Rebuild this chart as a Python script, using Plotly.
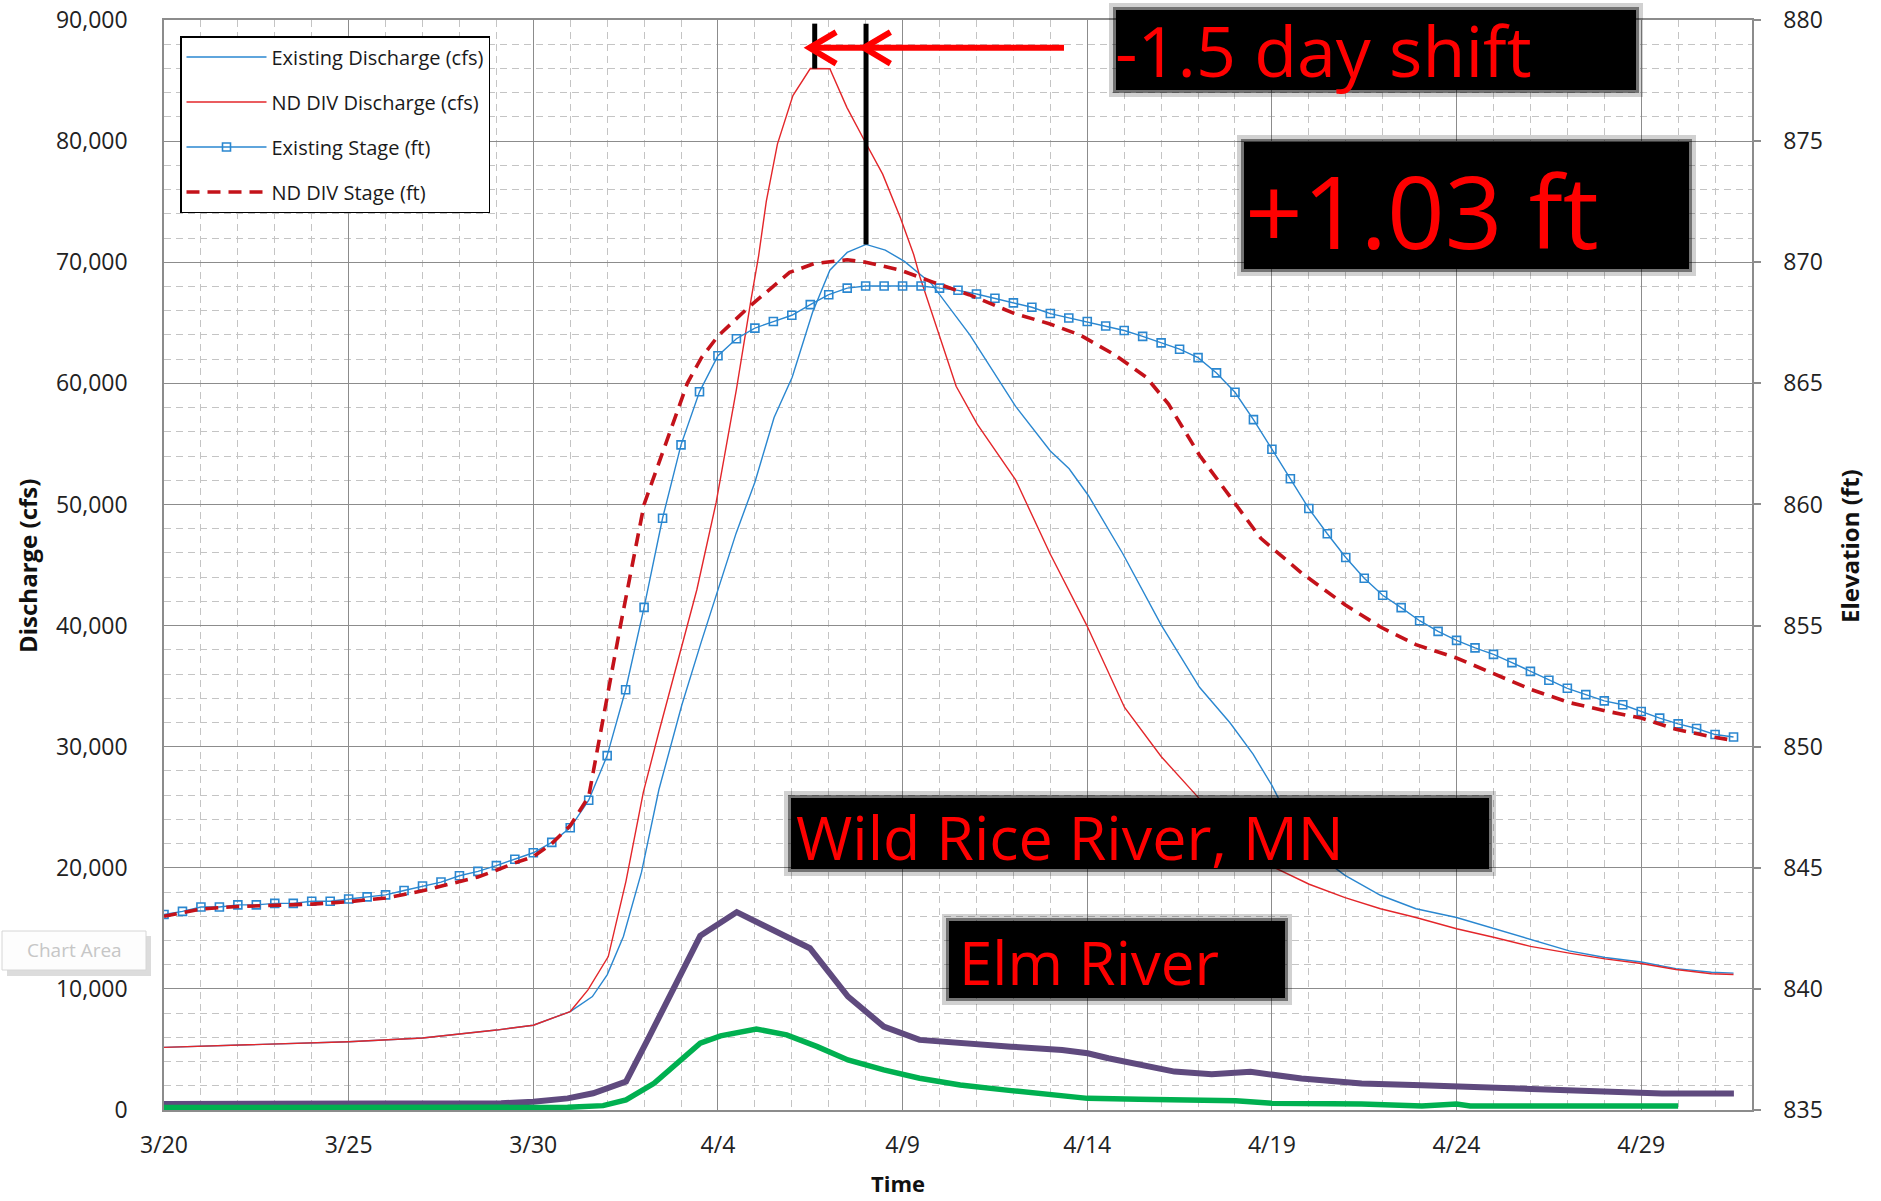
import plotly.graph_objects as go

# ---------------- data (day 0 = 3/20) ----------------
TICK_DAYS = [0, 5, 10, 15, 20, 25, 30, 35, 40]
TICK_LABELS = ["3/20", "3/25", "3/30", "4/4", "4/9", "4/14", "4/19", "4/24", "4/29"]

exist_q_day = [0, 2, 5, 7, 8, 9, 10, 11, 11.6, 12.0, 12.44, 12.93, 13.4, 14.02, 14.54, 15.0,
               15.49, 16.0, 16.52, 17.01, 17.56, 18.03, 18.5, 19.01, 19.53, 20.05, 20.78, 21.82,
               23.06, 24.0, 24.51, 25.03, 25.96, 27.0, 28.04, 28.87, 29.49, 30.0, 30.53, 31.01,
               31.98, 32.94, 33.9, 35.0, 36.03, 37.0, 38.05, 39.02, 40.0, 40.94, 41.9, 42.5]
exist_q = [5170, 5360, 5640, 5950, 6250, 6600, 7000, 8130, 9370, 11160, 14330, 19640, 26440,
           33420, 38570, 43000, 47610, 51840, 57180, 60500, 65840, 69340, 70810, 71470, 71000,
           70070, 68230, 64000, 58100, 54420, 52950, 50740, 45950, 40060, 34900, 31950, 29380,
           26800, 23600, 21580, 19380, 17730, 16620, 15890, 14970, 14060, 13140, 12590, 12220,
           11670, 11380, 11300]

nddiv_q_day = [0, 2, 5, 7, 8, 9, 10, 11, 11.48, 12.03, 12.51, 12.98, 13.4, 13.91, 14.43, 14.95,
               15.5, 15.9, 16.1, 16.31, 16.61, 17.03, 17.5, 18.03, 18.49, 18.97, 19.46, 19.94,
               20.3, 20.47, 20.99, 21.45, 22.02, 23.06, 23.99, 24.98, 26.01, 27.0, 28.04, 29.08,
               30.0, 31.01, 31.98, 32.94, 33.9, 35.0, 36.03, 37.0, 38.05, 39.02, 40.0, 40.94,
               41.9, 42.5]
nddiv_q = [5170, 5360, 5640, 5950, 6250, 6600, 7000, 8130, 9920, 12670, 18900, 26250, 31210,
           37100, 42980, 50150, 59500, 67000, 70500, 75050, 79750, 83760, 85990, 85970, 82790,
           80030, 77270, 73670, 70640, 68780, 64000, 59760, 56630, 52030, 45950, 40060, 33240,
           29190, 25690, 22380, 20110, 18640, 17540, 16620, 15890, 14970, 14240, 13510, 12950,
           12480, 12100, 11600, 11250, 11190]

exist_stage_day = [i * 0.5 for i in range(86)]
exist_stage = [843.07, 843.20, 843.38, 843.38, 843.47, 843.47, 843.53, 843.53, 843.62, 843.62,
               843.71, 843.80, 843.88, 844.06, 844.25, 844.41, 844.67, 844.85, 845.09, 845.35,
               845.62, 846.05, 846.65, 847.79, 849.63, 852.35, 855.75, 859.43, 862.46, 864.65,
               866.14, 866.84, 867.28, 867.55, 867.81, 868.25, 868.66, 868.93, 869.02, 869.02,
               869.02, 869.02, 868.93, 868.84, 868.69, 868.51, 868.32, 868.14, 867.88, 867.70,
               867.55, 867.37, 867.18, 866.94, 866.67, 866.41, 866.06, 865.43, 864.63, 863.50,
               862.28, 861.06, 859.83, 858.79, 857.81, 856.95, 856.25, 855.74, 855.20, 854.76,
               854.39, 854.08, 853.81, 853.47, 853.11, 852.74, 852.41, 852.15, 851.89, 851.73,
               851.45, 851.18, 850.94, 850.75, 850.50, 850.40]

nddiv_stage_day = [0, 1, 2, 3, 4, 5, 6, 7, 8, 8.5, 9, 9.5, 10, 10.5, 11, 11.5, 11.75, 12.36,
                   13.0, 13.58, 14.17, 14.55, 15.0, 15.8, 16.94, 17.6, 18.5, 19.0, 19.95, 20.78,
                   21.8, 23.0, 23.97, 24.8, 25.75, 26.6, 27.2, 28.04, 28.99, 29.7, 30.82, 31.98,
                   32.94, 33.9, 35.0, 36.03, 37.0, 38.05, 39.11, 40.0, 40.94, 41.8, 42.49]
nddiv_stage = [843.0, 843.3, 843.4, 843.45, 843.5, 843.6, 843.75, 844.05, 844.45, 844.62, 844.9,
               845.2, 845.46, 846.0, 846.74, 847.94, 850.0, 855.0, 860.0, 862.46, 865.0, 866.05,
               866.95, 868.1, 869.58, 869.94, 870.1, 870.0, 869.67, 869.2, 868.66, 867.9, 867.46,
               867.0, 866.17, 865.25, 864.14, 862.03, 860.09, 858.6, 857.15, 855.86, 854.94,
               854.21, 853.66, 853.01, 852.37, 851.82, 851.45, 851.18, 850.72, 850.44, 850.26]

purple_day = [0, 5, 9.13, 10, 10.93, 11.62, 12.51, 13.14, 13.69, 14.52, 15.51, 16.52, 17.49,
              18.52, 19.49, 20.46, 21.56, 22.94, 24.32, 25.01, 25.57, 26.39, 27.36, 28.37,
              29.42, 30.8, 32.43, 34.06, 35.68, 37.31, 38.93, 40.56, 42.51]
purple_q = [500, 500, 550, 690, 960, 1380, 2340, 6060, 9370, 14380, 16340, 14880, 13360, 9370,
            6890, 5790, 5510, 5230, 4960, 4680, 4270, 3720, 3170, 2960, 3150, 2600, 2190, 2050,
            1860, 1700, 1510, 1370, 1370]

green_day = [0, 5, 9.13, 10.93, 11.89, 12.51, 13.27, 13.83, 14.52, 15.07, 16.04, 16.86, 17.69,
             18.52, 19.49, 20.46, 21.56, 22.94, 24.32, 25.01, 26.39, 27.77, 29.02, 30.0, 32.43,
             34.06, 35.0, 35.37, 37.31, 41.0]
green_q = [200, 200, 220, 220, 360, 830, 2200, 3720, 5510, 6120, 6690, 6200, 5230, 4130, 3310,
           2620, 2070, 1600, 1160, 960, 880, 770, 770, 550, 490, 330, 490, 330, 330, 330]

# ---------------- geometry helpers ----------------
W, H = 1881, 1201
ML, MR, MT, MB = 164, 129, 20, 91
PW, PH = W - ML - MR, H - MT - MB
FONT = "Open Sans"
MAJ = "#8c8c8c"
MIN = "#c4c4c4"
BLUE = "#2A87D0"
RED = "#E3262A"
DRED = "#C4121A"


def px(x):
    return (x - ML) / PW


def py(y):
    return (H - MB - y) / PH


fig = go.Figure()

fig.add_trace(go.Scatter(x=exist_q_day, y=exist_q, mode="lines", name="Existing Discharge (cfs)",
                         line=dict(color=BLUE, width=1.4), legendgroup="a"))
fig.add_trace(go.Scatter(x=nddiv_q_day, y=nddiv_q, mode="lines", name="ND DIV Discharge (cfs)",
                         line=dict(color=RED, width=1.4), legendgroup="b"))
fig.add_trace(go.Scatter(x=purple_day, y=purple_q, mode="lines", name="Series 5", showlegend=False,
                         line=dict(color="#5F4A7E", width=6)))
fig.add_trace(go.Scatter(x=green_day, y=green_q, mode="lines", name="Series 6", showlegend=False,
                         line=dict(color="#00B050", width=5.5)))
fig.add_trace(go.Scatter(x=exist_stage_day, y=exist_stage, mode="lines+markers", yaxis="y2",
                         name="Existing Stage (ft)", legendgroup="c",
                         line=dict(color=BLUE, width=1.4),
                         marker=dict(symbol="square-open", size=8, color=BLUE, line=dict(width=1.6))))
fig.add_trace(go.Scatter(x=nddiv_stage_day, y=nddiv_stage, mode="lines", yaxis="y2",
                         name="ND DIV Stage (ft)", legendgroup="d",
                         line=dict(color=DRED, width=3.6, dash="13px,8px")))

shapes = []
annotations = []


def soft_box(x0, y0, x1, y1):
    # soft-edged black label box: faint halo, mid ring, solid core
    for pad, op in [(2, 0.18), (-2, 0.45), (-5, 1.0)]:
        shapes.append(dict(type="rect", xref="paper", yref="paper",
                           x0=px(x0 - pad), x1=px(x1 + pad),
                           y0=py(y1 + pad), y1=py(y0 - pad),
                           fillcolor="black", opacity=op, line=dict(width=0), layer="above"))


def box_text(text, x, y, size):
    annotations.append(dict(text=text, xref="paper", yref="paper", x=px(x), y=py(y),
                            xanchor="left", yanchor="middle", showarrow=False,
                            font=dict(family=FONT, size=size, color="#FF0000")))


soft_box(1111, 5, 1641, 95)
box_text("-1.5 day shift", 1113, 50, 70)
soft_box(1239, 137, 1694, 274)
box_text("+1.03 ft", 1243, 210, 101)
soft_box(786, 793, 1494, 874)
box_text("Wild Rice River, MN", 794, 836, 61)
soft_box(944, 916, 1290, 1003)
box_text("Elm River", 957, 962, 60)

# peak markers and shift arrow (data coordinates)
ARROW_TOP = 89700
ARROW_Y = 87700
ARROW_END_DAY = 24.37
peak_nd_day = nddiv_q_day[nddiv_q.index(max(nddiv_q))]
peak_ex_day = exist_q_day[exist_q.index(max(exist_q))]
shapes.append(dict(type="line", xref="x", yref="y", x0=peak_nd_day + 0.12, x1=peak_nd_day + 0.12,
                   y0=max(nddiv_q), y1=ARROW_TOP, line=dict(color="black", width=5)))
shapes.append(dict(type="line", xref="x", yref="y", x0=peak_ex_day, x1=peak_ex_day,
                   y0=max(exist_q), y1=ARROW_TOP, line=dict(color="black", width=5)))
tip1 = peak_nd_day - 0.02
tip2 = peak_ex_day - 0.06
shapes.append(dict(type="line", xref="x", yref="y", x0=tip1, x1=ARROW_END_DAY,
                   y0=ARROW_Y, y1=ARROW_Y, line=dict(color="#FF0000", width=6)))
for tip in (tip1, tip2):
    shapes.append(dict(type="path", xref="x", yref="y",
                       path=f"M {tip + 0.72},{ARROW_Y + 1300} L {tip},{ARROW_Y} L {tip + 0.72},{ARROW_Y - 1300}",
                       line=dict(color="#FF0000", width=6)))

# "Chart Area" tooltip artifact
shapes.append(dict(type="rect", xref="paper", yref="paper", x0=px(7), x1=px(151), y0=py(976), y1=py(936),
                   fillcolor="#9a9a9a", opacity=0.35, line=dict(width=0)))
shapes.append(dict(type="rect", xref="paper", yref="paper", x0=px(2), x1=px(146), y0=py(970), y1=py(931),
                   fillcolor="#fdfdfd", line=dict(color="#d6d6d6", width=1)))
annotations.append(dict(text="Chart Area", xref="paper", yref="paper", x=px(74), y=py(950),
                        xanchor="center", yanchor="middle", showarrow=False,
                        font=dict(family=FONT, size=19, color="#c6c6c6")))

# axis titles
annotations.append(dict(text="<b>Discharge (cfs)</b>", xref="paper", yref="paper", x=px(27), y=py(566),
                        xanchor="center", yanchor="middle", textangle=-90, showarrow=False,
                        font=dict(family=FONT, size=24, color="#111111")))
annotations.append(dict(text="<b>Elevation (ft)</b>", xref="paper", yref="paper", x=px(1849), y=py(546),
                        xanchor="center", yanchor="middle", textangle=-90, showarrow=False,
                        font=dict(family=FONT, size=24, color="#111111")))
annotations.append(dict(text="<b>Time</b>", xref="paper", yref="paper", x=px(898), y=py(1183),
                        xanchor="center", yanchor="middle", showarrow=False,
                        font=dict(family=FONT, size=22, color="#111111")))

tickfont = dict(family=FONT, size=23, color="#222222")

fig.update_layout(
    width=W, height=H,
    margin=dict(l=ML, r=MR, t=MT, b=MB, autoexpand=False),
    paper_bgcolor="white", plot_bgcolor="white",
    showlegend=True,
    legend=dict(x=px(180), y=py(36), xanchor="left", yanchor="top", bgcolor="white",
                bordercolor="black", borderwidth=1.5, itemwidth=80, tracegroupgap=16,
                font=dict(family=FONT, size=20, color="#1a1a1a")),
    xaxis=dict(range=[0, 43], tickmode="array", tickvals=TICK_DAYS, ticktext=TICK_LABELS,
               automargin=False,
               showgrid=True, gridcolor=MAJ, gridwidth=1.3, zeroline=False,
               minor=dict(tickmode="linear", tick0=0, dtick=1, showgrid=True, gridcolor=MIN,
                          griddash="7px,5px", gridwidth=1),
               showline=True, linecolor=MAJ, linewidth=1.5, mirror=True, ticks="",
               tickfont=tickfont, ticklabelstandoff=14),
    yaxis=dict(range=[0, 90000], tickmode="linear", tick0=0, dtick=10000, tickformat=",d",
               automargin=False,
               showgrid=True, gridcolor=MAJ, gridwidth=1.3, zeroline=False,
               minor=dict(tickmode="linear", tick0=0, dtick=2000, showgrid=True, gridcolor=MIN,
                          griddash="7px,5px", gridwidth=1),
               showline=True, linecolor=MAJ, linewidth=1.5, mirror=True, ticks="",
               tickfont=tickfont, ticklabelstandoff=30),
    yaxis2=dict(range=[835, 880], tickmode="linear", tick0=835, dtick=5, overlaying="y", side="right",
                automargin=False,
                showgrid=False, zeroline=False, showline=True, linecolor=MAJ, linewidth=1.5,
                ticks="outside", ticklen=7, tickcolor=MAJ, tickwidth=1.5,
                tickfont=tickfont, ticklabelstandoff=18),
    shapes=shapes,
    annotations=annotations,
)

fig.write_html("out.html", config={"displayModeBar": False},
               post_script="document.body.style.margin='0';document.body.style.overflow='hidden';")
